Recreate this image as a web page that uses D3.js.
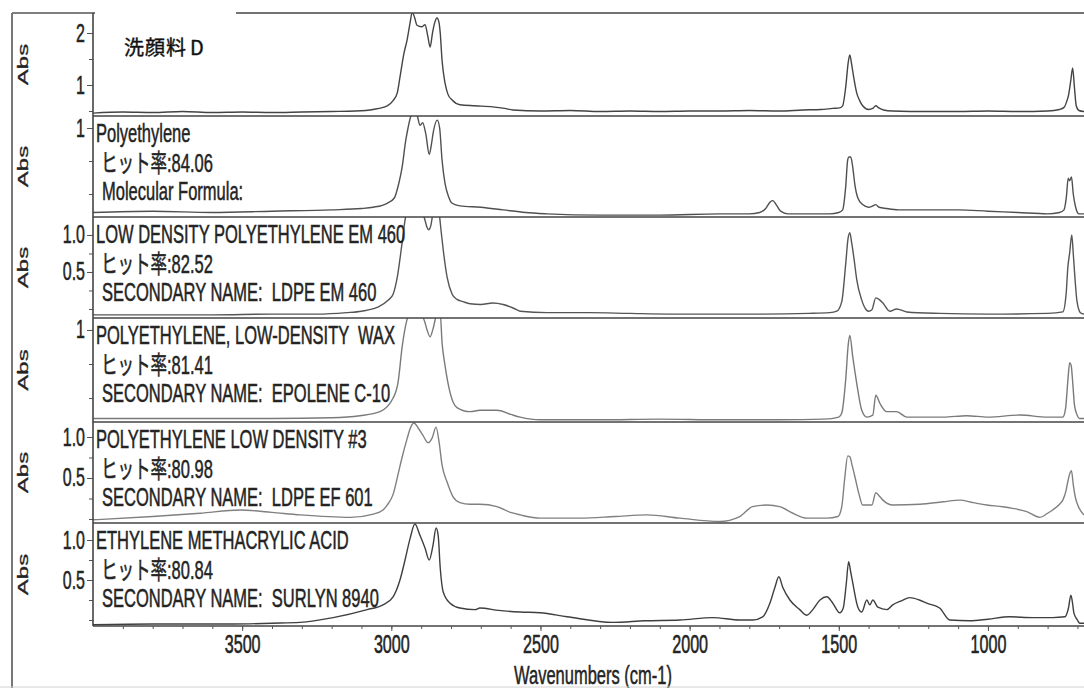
<!DOCTYPE html>
<html><head><meta charset="utf-8">
<script src="https://cdn.jsdelivr.net/npm/d3@7"></script>
<style>body{margin:0;background:#fff}svg{display:block}text{white-space:pre}</style>
</head><body><svg id="c" width="1084" height="688"></svg>
<script>
// ---------------- DATA ----------------
const sampleTitle = "洗顔料D";
const refNames = ["Polyethylene","LOW DENSITY POLYETHYLENE EM 460","POLYETHYLENE, LOW-DENSITY  WAX","POLYETHYLENE LOW DENSITY #3","ETHYLENE METHACRYLIC ACID"];
const hitRates = ["ヒット率:84.06","ヒット率:82.52","ヒット率:81.41","ヒット率:80.98","ヒット率:80.84"];
const thirdLines = ["Molecular Formula:","SECONDARY NAME:  LDPE EM 460","SECONDARY NAME:  EPOLENE C-10","SECONDARY NAME:  LDPE EF 601","SECONDARY NAME:  SURLYN 8940"];
const xTickValues = [3500,3000,2500,2000,1500,1000];
const xAxisTitle = "Wavenumbers (cm-1)";
const yAxisTitle = "Abs";
const yMajorTicks = [[1,2],[1],[0.5,1.0],[1],[0.5,1.0],[0.5,1.0]];
const yMinorTicks = [[0.5,1,1.5,2],[0.5,0.75,1],[0,0.25,0.5,0.75,1],[0.5,0.75,1],[0,0.25,0.5,0.75,1],[0,0.25,0.5,0.75,1]];
const yTickFormats = ["d","d",".1f","d",".1f",".1f"];
const yDomains = [[0.404,2.385],[0.326,1.091],[-0.122,1.243],[0.324,1.088],[-0.049,1.183],[-0.075,1.2125]];

const specSample = [[4000,0.46],[3900,0.48],[3800,0.47],[3700,0.49],[3600,0.47],[3500,0.48],[3400,0.47],[3300,0.48],[3200,0.49],[3120,0.5],[3061,0.53],[3014,0.6],[2994,0.7],[2980,0.85],[2971,1.15],[2958,1.6],[2947,1.87],[2937,2.2],[2930,2.4],[2922,2.3],[2914,2.15],[2898,2.12],[2887,2.16],[2878,1.95],[2870,1.73],[2862,2.0],[2855,2.19],[2847,2.29],[2840,2.2],[2836,2.0],[2830,1.48],[2820,1.04],[2810,0.82],[2796,0.71],[2770,0.62],[2720,0.6],[2660,0.58],[2620,0.55],[2592,0.52],[2500,0.5],[2400,0.51],[2300,0.49],[2200,0.5],[2100,0.49],[2000,0.5],[1900,0.5],[1800,0.51],[1700,0.5],[1620,0.52],[1560,0.53],[1520,0.55],[1497,0.56],[1487,0.6],[1477,0.95],[1468,1.45],[1463,1.58],[1457,1.4],[1450,1.15],[1440,0.85],[1430,0.7],[1420,0.6],[1400,0.53],[1386,0.55],[1376,0.6],[1366,0.56],[1350,0.52],[1320,0.5],[1200,0.49],[1100,0.49],[1000,0.5],[900,0.49],[800,0.5],[760,0.53],[745,0.57],[735,0.7],[730,0.8],[722,1.1],[716,1.33],[710,0.95],[704,0.6],[695,0.51],[678,0.49]];
const specPE = [[4000,0.36],[3800,0.37],[3600,0.36],[3400,0.37],[3200,0.38],[3100,0.39],[3061,0.4],[3014,0.43],[2990,0.47],[2975,0.58],[2964,0.7],[2952,0.9],[2944,1.0],[2933,1.1],[2925,1.12],[2914,1.1],[2904,1.02],[2895,1.04],[2884,0.95],[2873,0.8],[2866,0.87],[2860,0.96],[2846,1.06],[2838,1.0],[2830,0.76],[2820,0.58],[2808,0.48],[2796,0.43],[2770,0.41],[2700,0.4],[2625,0.38],[2550,0.36],[2478,0.35],[2300,0.34],[2100,0.34],[1900,0.35],[1800,0.35],[1765,0.36],[1745,0.39],[1730,0.44],[1721,0.45],[1710,0.42],[1695,0.37],[1670,0.35],[1600,0.35],[1530,0.35],[1500,0.36],[1487,0.38],[1477,0.55],[1470,0.76],[1466,0.78],[1460,0.78],[1453,0.7],[1446,0.57],[1436,0.47],[1420,0.42],[1400,0.4],[1386,0.41],[1376,0.42],[1365,0.4],[1340,0.39],[1300,0.38],[1200,0.38],[1100,0.38],[1000,0.37],[900,0.36],[800,0.35],[760,0.36],[745,0.38],[737,0.48],[731,0.62],[726,0.6],[720,0.63],[714,0.5],[706,0.4],[695,0.35],[678,0.35]];
const specEM460 = [[4000,-0.08],[3800,-0.08],[3600,-0.08],[3400,-0.07],[3250,-0.07],[3150,-0.05],[3100,-0.03],[3048,0.02],[3010,0.12],[2994,0.2],[2980,0.43],[2964,0.89],[2954,1.2],[2945,1.35],[2930,1.4],[2910,1.38],[2897,1.32],[2887,1.2],[2880,1.1],[2875,1.07],[2868,1.12],[2860,1.3],[2850,1.4],[2840,1.3],[2833,1.05],[2826,0.8],[2813,0.43],[2796,0.2],[2780,0.13],[2760,0.1],[2736,0.07],[2700,0.06],[2660,0.08],[2625,0.06],[2590,0.01],[2568,-0.03],[2478,-0.05],[2334,-0.05],[2200,-0.06],[2000,-0.07],[1800,-0.07],[1600,-0.06],[1530,-0.05],[1507,-0.03],[1490,0.1],[1477,0.6],[1469,0.95],[1463,1.03],[1457,0.9],[1448,0.65],[1440,0.4],[1423,0.12],[1410,0.0],[1400,-0.03],[1389,-0.01],[1376,0.15],[1362,0.12],[1352,0.08],[1329,-0.03],[1306,0.0],[1272,-0.04],[1162,-0.06],[1000,-0.07],[800,-0.06],[749,-0.04],[738,0.2],[732,0.57],[726,0.76],[719,1.0],[714,0.75],[708,0.4],[702,0.12],[690,-0.05],[678,-0.07]];
const specC10 = [[4000,0.35],[3800,0.35],[3600,0.35],[3400,0.35],[3200,0.355],[3105,0.37],[3038,0.4],[2994,0.5],[2977,0.62],[2964,0.87],[2954,1.01],[2940,1.12],[2920,1.14],[2900,1.12],[2888,1.06],[2880,1.0],[2870,0.95],[2860,1.01],[2846,1.12],[2836,1.12],[2830,0.91],[2820,0.74],[2803,0.54],[2780,0.43],[2736,0.4],[2703,0.41],[2646,0.41],[2600,0.38],[2568,0.36],[2501,0.34],[2300,0.34],[2100,0.345],[1900,0.34],[1700,0.34],[1550,0.345],[1500,0.36],[1490,0.39],[1477,0.63],[1468,0.9],[1463,0.96],[1453,0.8],[1440,0.61],[1423,0.41],[1406,0.36],[1386,0.375],[1376,0.52],[1362,0.46],[1339,0.4],[1306,0.4],[1272,0.36],[1150,0.36],[1071,0.37],[1000,0.36],[893,0.375],[800,0.36],[749,0.36],[740,0.42],[732,0.63],[726,0.76],[721,0.74],[716,0.62],[710,0.45],[702,0.38],[692,0.35],[678,0.35]];
const specEF601 = [[4000,-0.01],[3800,0.03],[3641,0.07],[3507,0.11],[3400,0.08],[3306,0.05],[3138,0.02],[3060,0.06],[3028,0.11],[3014,0.17],[2994,0.3],[2977,0.55],[2964,0.75],[2947,0.98],[2937,1.1],[2924,1.17],[2910,1.11],[2894,1.02],[2877,0.93],[2863,0.99],[2850,1.12],[2840,0.94],[2830,0.66],[2813,0.45],[2793,0.27],[2770,0.2],[2736,0.18],[2703,0.18],[2646,0.15],[2600,0.08],[2568,0.05],[2501,0.01],[2367,0.01],[2250,0.03],[2143,0.05],[2033,0.01],[1900,-0.03],[1832,0.03],[1789,0.15],[1741,0.17],[1698,0.15],[1654,0.07],[1607,0.01],[1540,0.01],[1503,0.03],[1490,0.15],[1480,0.5],[1470,0.77],[1463,0.76],[1455,0.65],[1445,0.5],[1432,0.3],[1420,0.17],[1400,0.17],[1389,0.17],[1376,0.32],[1362,0.27],[1352,0.23],[1319,0.17],[1228,0.18],[1150,0.21],[1094,0.23],[1050,0.2],[1004,0.17],[950,0.15],[917,0.13],[870,0.09],[826,0.02],[800,0.07],[783,0.11],[760,0.18],[749,0.23],[738,0.35],[732,0.46],[726,0.55],[720,0.59],[714,0.42],[706,0.25],[699,0.17],[678,0.05]];
const specSurlyn = [[4000,-0.06],[3800,-0.05],[3530,-0.05],[3400,-0.04],[3306,-0.03],[3195,0.03],[3081,0.13],[3028,0.19],[2994,0.29],[2971,0.5],[2954,0.75],[2937,1.02],[2921,1.2],[2904,1.06],[2887,0.9],[2873,0.75],[2860,0.94],[2850,1.15],[2843,1.06],[2836,0.65],[2826,0.35],[2803,0.21],[2770,0.15],[2719,0.13],[2703,0.15],[2640,0.12],[2568,0.1],[2501,0.09],[2411,0.04],[2257,-0.03],[2150,-0.01],[2033,0.0],[1922,0.03],[1832,0.0],[1789,0.0],[1755,0.04],[1731,0.21],[1714,0.41],[1701,0.54],[1688,0.41],[1664,0.25],[1631,0.13],[1607,0.06],[1587,0.13],[1563,0.25],[1540,0.29],[1520,0.21],[1497,0.09],[1485,0.15],[1475,0.45],[1467,0.73],[1460,0.6],[1453,0.46],[1436,0.16],[1423,0.1],[1406,0.25],[1396,0.19],[1386,0.25],[1369,0.16],[1339,0.13],[1319,0.19],[1290,0.24],[1262,0.28],[1230,0.25],[1205,0.21],[1162,0.15],[1128,0.0],[1061,-0.01],[1000,0.01],[927,0.04],[850,0.03],[783,0.03],[742,0.04],[730,0.15],[722,0.31],[716,0.2],[712,0.09],[700,0.0],[692,-0.04],[678,-0.04]];
const spectra = [specSample, specPE, specEM460, specC10, specEF601, specSurlyn];

// ---------------- LAYOUT ----------------
const svg = d3.select("#c");
const plotLeft = 93, plotRight = 1084;
const edges = [13,116,217,318,422,523,626];
const lineColors = ["#444","#505050","#555","#7a7a7a","#808080","#3f3f3f"];
const FONT = "'Liberation Sans', Arial, 'Noto Sans CJK JP', sans-serif";
const SQ = 0.66;
const TXT = "#242424";

const x = d3.scaleLinear().domain([4000,678]).range([plotLeft, plotRight]);

function ink(sel, w) { return sel.attr("fill",TXT).attr("stroke",TXT).attr("stroke-width",w); }

function squeezeAxisText(g, k, fs) {
  g.selectAll(".tick text").each(function(){
    const t = d3.select(this);
    const tx = +t.attr("x") || 0, ty = +t.attr("y") || 0;
    t.attr("x",0).attr("y",0)
     .attr("transform",`translate(${tx},${ty}) scale(${k},1)`)
     .attr("font-size",fs).attr("font-family",FONT);
    ink(t, 0.5);
  });
}

const defs = svg.append("defs");

for (let i=0;i<6;i++){
  const top = edges[i], bot = edges[i+1];
  const y = d3.scaleLinear().domain(yDomains[i]).range([bot, top]);
  defs.append("clipPath").attr("id","clip"+i).append("rect")
    .attr("x",plotLeft).attr("y",top).attr("width",plotRight-plotLeft).attr("height",bot-top);

  const line = d3.line().x(d=>x(d[0])).y(d=>y(d[1])).curve(d3.curveMonotoneX);
  svg.append("path").datum(spectra[i]).attr("clip-path",`url(#clip${i})`)
    .attr("d",line).attr("fill","none").attr("stroke",lineColors[i])
    .attr("stroke-width",1.4).attr("stroke-linejoin","round");

  svg.append("g").attr("transform",`translate(${plotLeft},0)`)
    .call(d3.axisLeft(y).tickValues(yMinorTicks[i]).tickSize(4).tickFormat(""))
    .call(g=>g.select(".domain").remove())
    .selectAll("line").attr("stroke","#555");
  const ga = svg.append("g").attr("transform",`translate(${plotLeft},0)`)
    .call(d3.axisLeft(y).tickValues(yMajorTicks[i]).tickSize(6).tickPadding(2).tickFormat(d3.format(yTickFormats[i])))
    .call(g=>g.select(".domain").remove());
  ga.selectAll("line").attr("stroke","#555");
  squeezeAxisText(ga, 0.64, 25);

  ink(svg.append("text").attr("transform",`translate(28,${(top+bot)/2}) scale(0.62,1) rotate(-90)`)
    .attr("text-anchor","middle").attr("font-family",FONT).attr("font-size",24), 0.5)
    .text(yAxisTitle);

  svg.append("line").attr("x1",plotLeft).attr("x2",plotRight).attr("y1",top).attr("y2",top)
    .attr("stroke","#444").attr("stroke-width",1.6);

  if (i>0){
    const lines = [refNames[i-1], hitRates[i-1], thirdLines[i-1]];
    const xs = [96, 101, 102];
    const offs = [26, 56, 84];
    lines.forEach((s,j)=>{
      ink(svg.append("text").attr("transform",`translate(${xs[j]},${top+offs[j]}) scale(${SQ},1)`)
        .attr("font-family",FONT).attr("font-size",25), 0.5).text(s);
    });
  }
}

// bottom axis
svg.append("line").attr("x1",plotLeft).attr("x2",plotRight).attr("y1",edges[6]).attr("y2",edges[6])
  .attr("stroke","#444").attr("stroke-width",1.6);
svg.append("g").attr("transform",`translate(0,${edges[6]})`)
  .call(d3.axisBottom(x).tickValues(d3.range(3900,678,-100)).tickSize(3).tickFormat(""))
  .call(g=>g.select(".domain").remove()).selectAll("line").attr("stroke","#555");
const gx = svg.append("g").attr("transform",`translate(0,${edges[6]})`)
  .call(d3.axisBottom(x).tickValues(xTickValues).tickSize(5).tickFormat(d3.format("d")))
  .call(g=>g.select(".domain").remove());
gx.selectAll("line").attr("stroke","#555");
gx.selectAll(".tick text").each(function(){
  ink(d3.select(this).attr("y",0).attr("dy",0).attr("transform","translate(0,27) scale(0.62,1)")
    .attr("font-size",26).attr("font-family",FONT), 0.6);
});
ink(svg.append("text").attr("transform","translate(593,684) scale(0.66,1)")
  .attr("text-anchor","middle").attr("font-family",FONT).attr("font-size",25), 0.5)
  .text(xAxisTitle);

// left axis line & frame
svg.append("line").attr("x1",plotLeft).attr("x2",plotLeft).attr("y1",edges[0]).attr("y2",edges[6])
  .attr("stroke","#444").attr("stroke-width",1.6);
svg.append("line").attr("x1",12).attr("x2",plotLeft).attr("y1",13).attr("y2",13)
  .attr("stroke","#555").attr("stroke-width",1.6);
svg.append("line").attr("x1",12).attr("x2",12).attr("y1",13).attr("y2",688)
  .attr("stroke","#777").attr("stroke-width",2);
svg.append("line").attr("x1",0).attr("x2",1084).attr("y1",687).attr("y2",687)
  .attr("stroke","#d0d0d0").attr("stroke-width",1);

// white label box + title
svg.append("rect").attr("x",95).attr("y",0).attr("width",141).attr("height",15).attr("fill","#fff");
const tt = svg.append("text").attr("x",124).attr("y",55)
  .attr("font-family","'Noto Sans CJK JP', sans-serif").attr("font-size",20)
  .attr("letter-spacing","1px").attr("fill","#111").attr("stroke","#111").attr("stroke-width",0.4);
tt.append("tspan").text(sampleTitle.slice(0,3));
tt.append("tspan").attr("dx",3).text(sampleTitle.slice(3));
</script></body></html>
